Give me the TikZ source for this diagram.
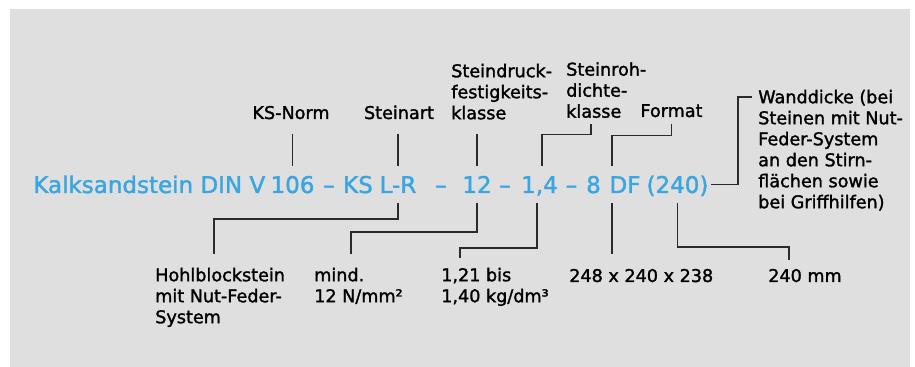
\documentclass[tikz,border=0pt]{standalone}
\usepackage{fontspec}
\setmainfont{DejaVu Sans}[FakeBold=1.6]
\usepackage{tikz}
\usetikzlibrary{calc, positioning}
\definecolor{PanelGray}{HTML}{DFDFDF}
\definecolor{CodeBlue}{HTML}{3AA6E0}
\definecolor{LeadGray}{HTML}{2B2B2B}
\tikzset{
  codepart/.style={inner sep=0pt, outer xsep=2pt, outer ysep=7.5pt, text height=12.6pt, text depth=0pt, text=CodeBlue, font=\fontsize{17.25pt}{20pt}\selectfont, anchor=base},
  notetext/.style={inner sep=0pt, text=black, font=\fontsize{13.2pt}{15.75pt}\selectfont, align=left},
  leadline/.style={draw=LeadGray, line width=1pt}
}
\begin{document}
\begin{tikzpicture}[x=0.75pt, y=-0.75pt]
  \useasboundingbox (0,0) rectangle (915,367);
  \fill[PanelGray] (10,9) rectangle (910,367);

  \node[codepart] (n106) at (292.5,193) {106};
  \node[codepart, anchor=base east] (kalk) at (n106.base west) {Kalksandstein DIN V};
  \node[codepart] (d1) at (329,193) {–};
  \node[codepart] (ks) at (358,193) {KS};
  \node[codepart] (lr) at (398,193) {L-R};
  \node[codepart] (d2) at (441,193) {–};
  \node[codepart] (druck) at (477,193) {12};
  \node[codepart] (d3) at (505,193) {–};
  \node[codepart] (dichte) at (539.5,193) {1,4};
  \node[codepart] (d4) at (571.5,193) {–};
  \node[codepart] (eight) at (593.5,193) {8};
  \node[codepart] (df) at (625,193) {DF};
  \node[codepart] (wand) at (677.5,193) {(240)};

  \node[notetext, anchor=base] (ksnorm) at (291,119) {KS-Norm};
  \node[notetext, anchor=base] (steinart) at (399,119) {Steinart};
  \node[notetext, anchor=north west] (festigkeit) at (451,63.6) {Steindruck-\\festigkeits-\\klasse};
  \node[notetext, anchor=north west] (rohdichte) at (566,62) {Steinroh-\\dichte-\\klasse};
  \node[notetext, anchor=base] (format) at (671.5,117) {Format};
  \node[notetext, anchor=north west] (wanddicke) at (758,89.6) {Wanddicke (bei\\Steinen mit Nut-\\Feder-System\\an den Stirn-\\flächen sowie\\bei Griffhilfen)};

  \node[notetext, anchor=north west] (hohlblock) at (155,267.6) {Hohlblockstein\\mit Nut-Feder-\\System};
  \node[notetext, anchor=north west] (mindest) at (314,267.6) {mind.\\12 N/mm²};
  \node[notetext, anchor=north west] (dichteval) at (441,267.6) {1,21 bis\\1,40 kg/dm³};
  \node[notetext, anchor=base west] (formatval) at (569,282) {248 x 240 x 238};
  \node[notetext, anchor=base west] (dickeval) at (768,282) {240 mm};

  \coordinate (dftop) at ($(df.north west)+(5,0)$);
  \coordinate (dfbot) at ($(df.south west)+(5,0)$);

  \draw[leadline] (n106.north) -- ($(n106.north |- ksnorm.south)+(0,14)$);
  \draw[leadline] (lr.north) -- ($(lr.north |- steinart.south)+(0,14)$);
  \draw[leadline] (druck.north) -- ($(druck.north |- festigkeit.south)+(0,14)$);
  \draw[leadline] ($(dichte.north)+(2.5,0)$) -- ++(0,-32) -| ($(rohdichte.south west)+(25,6)$);
  \draw[leadline] (dftop) -- ++(0,-31) -| ($(format.south)+(0,6)$);
  \draw[leadline] (wand.east) -- ++(27,0) |- ($(wanddicke.north west)+(-6,7.5)$);

  \draw[leadline] (lr.south) -- ++(0,16) -| ($(hohlblock.north west)+(59,-13.6)$);
  \draw[leadline] (druck.south) -- ++(0,29) -| ($(mindest.north west)+(37,-13.6)$);
  \draw[leadline] ($(dichte.south)+(-2.5,0)$) -- ++(0,45) -| ($(dichteval.north west)+(19,-9.6)$);
  \draw[leadline] (dfbot) -- ($(dfbot |- formatval.north)+(0,-15)$);
  \draw[leadline] (wand.south) -- ++(0,44) -| ($(dickeval.north west)+(21,-8.2)$);
\end{tikzpicture}
\end{document}
